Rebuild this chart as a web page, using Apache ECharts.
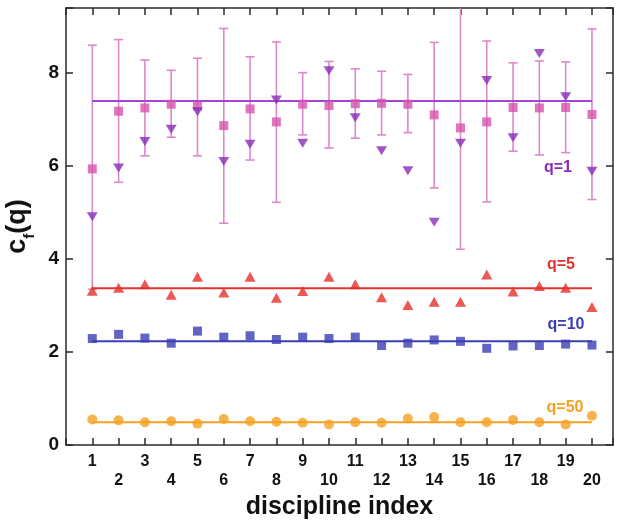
<!DOCTYPE html>
<html>
<head>
<meta charset="utf-8">
<script src="https://cdn.jsdelivr.net/npm/echarts@6/dist/echarts.min.js"></script>
<style>html,body{margin:0;padding:0;background:#fff}#c{width:619px;height:520px}</style>
</head>
<body>
<div id="c"></div>
<script>
const disciplines = [1,2,3,4,5,6,7,8,9,10,11,12,13,14,15,16,17,18,19,20];
const meanQ1 = [5.94,7.18,7.25,7.33,7.29,6.87,7.23,6.95,7.33,7.30,7.34,7.35,7.33,7.10,6.82,6.95,7.26,7.25,7.26,7.11];
const errHighQ1 = [8.60,8.72,8.28,8.06,8.32,8.96,8.35,8.67,8.01,8.25,8.09,8.04,7.97,8.66,9.9,8.69,8.22,8.26,8.24,8.95];
const errLowQ1 = [3.35,5.65,6.22,6.62,6.22,4.77,6.13,5.22,6.67,6.39,6.60,6.67,6.72,5.53,4.21,5.23,6.32,6.24,6.29,5.28];
const triQ1 = [4.91,5.96,6.53,6.79,7.17,6.10,6.47,7.42,6.49,8.05,7.04,6.33,5.90,4.79,6.49,7.84,6.61,8.42,7.49,5.89];
const q5 = [3.32,3.38,3.46,3.23,3.62,3.28,3.62,3.17,3.31,3.62,3.46,3.18,3.01,3.08,3.08,3.67,3.30,3.42,3.38,2.97];
const q10 = [2.29,2.38,2.30,2.19,2.45,2.32,2.35,2.27,2.32,2.29,2.32,2.14,2.19,2.26,2.23,2.08,2.13,2.14,2.17,2.15];
const q50 = [0.55,0.53,0.49,0.51,0.46,0.56,0.51,0.50,0.48,0.44,0.49,0.48,0.57,0.60,0.49,0.49,0.54,0.49,0.44,0.63];
const fitLevels = [7.40, 3.37, 2.23, 0.49];
const seriesNames = ['q=1','q=5','q=10','q=50'];
const yTicks = [0,2,4,6,8];

const C = {
  purpleLine:'#a443d6', purpleTri:'#8a2cb8', pink:'#d652ae', err:'#db88cc',
  red:'#e6302b', blue:'#3a3db3', orange:'#f5a021', axis:'#2a2a2a'
};
const FONT = 'Liberation Sans, Arial, Helvetica, sans-serif';

const pts = arr => disciplines.map((d,i)=>[d, arr[i]]);
const fitLine = v => [[disciplines[0], v], [disciplines[disciplines.length-1], v]];

const chart = echarts.init(document.getElementById('c'), null, {renderer:'canvas'});
const axisLine = {show:true, onZero:false, lineStyle:{color:C.axis, width:1.5}};
const tickStyle = {color:C.axis, width:1.5};

chart.setOption({
  animation:false,
  backgroundColor:'#fff',
  textStyle:{fontFamily:FONT},
  grid:{left:66, right:6, top:8, bottom:75, containLabel:false, outerBoundsMode:'none'},
  xAxis:[{
    type:'value', position:'bottom', min:0, max:20.8, interval:1,
    axisLine:axisLine, splitLine:{show:false},
    axisTick:{show:true, inside:true, length:7, lineStyle:tickStyle},
    axisLabel:{
      fontFamily:FONT, fontSize:16, fontWeight:'bold', color:'#111', lineHeight:19, margin:7,
      formatter:function(v){
        if (Math.abs(v-Math.round(v))>1e-6 || v<1 || v>20) return '';
        return (v%2===1) ? String(v) : '\n'+v;
      }
    },
    name:'discipline index', nameLocation:'middle', nameGap:37,
    nameTextStyle:{fontFamily:FONT, fontSize:25, fontWeight:'bold', color:'#111'}
  },{
    type:'value', position:'top', min:0, max:20.8, interval:1,
    axisLine:axisLine, splitLine:{show:false},
    axisTick:{show:true, inside:true, length:7, lineStyle:tickStyle},
    axisLabel:{show:false}
  }],
  yAxis:[{
    type:'value', position:'left', min:0, max:9.4, interval:2,
    axisLine:axisLine, splitLine:{show:false},
    axisTick:{show:true, inside:true, length:7, lineStyle:tickStyle},
    axisLabel:{
      fontFamily:FONT, fontSize:19, fontWeight:'bold', color:'#111', margin:7,
      formatter:function(v){ return yTicks.indexOf(v)>=0 ? String(v) : ''; }
    },
    name:'{a|c}{b|f}{a|(q)}', nameLocation:'middle', nameGap:27, nameRotate:90,
    nameTextStyle:{
      rich:{
        a:{fontFamily:FONT, fontSize:27, fontWeight:'bold', color:'#111', verticalAlign:'bottom'},
        b:{fontFamily:FONT, fontSize:15, fontWeight:'bold', color:'#111', verticalAlign:'bottom', padding:[0,0,-6,0]}
      }
    }
  },{
    type:'value', position:'right', min:0, max:9.4, interval:2,
    axisLine:axisLine, splitLine:{show:false},
    axisTick:{show:true, inside:true, length:7, lineStyle:tickStyle},
    axisLabel:{show:false}
  }],
  series:[
    {
      type:'custom', name:'err', clip:true, xAxisIndex:0, yAxisIndex:0,
      data: disciplines.map((d,i)=>[d, errLowQ1[i], errHighQ1[i]]),
      encode:{x:0, y:[1,2]},
      renderItem:function(params, api){
        const x = api.value(0);
        const lo = api.coord([x, api.value(1)]);
        const hi = api.coord([x, api.value(2)]);
        const w = 4.5;
        const st = {stroke:C.err, lineWidth:1.6};
        return {type:'group', children:[
          {type:'line', shape:{x1:lo[0], y1:lo[1], x2:hi[0], y2:hi[1]}, style:st},
          {type:'line', shape:{x1:hi[0]-w, y1:hi[1], x2:hi[0]+w, y2:hi[1]}, style:st},
          {type:'line', shape:{x1:lo[0]-w, y1:lo[1], x2:lo[0]+w, y2:lo[1]}, style:st}
        ]};
      },
      z:1
    },
    {type:'line', data:fitLine(fitLevels[0]), symbol:'none', lineStyle:{color:C.purpleLine, width:2}, z:2},
    {type:'line', data:fitLine(fitLevels[1]), symbol:'none', lineStyle:{color:C.red, width:2}, z:2},
    {type:'line', data:fitLine(fitLevels[2]), symbol:'none', lineStyle:{color:C.blue, width:2}, z:2},
    {type:'line', data:fitLine(fitLevels[3]), symbol:'none', lineStyle:{color:C.orange, width:2}, z:2},
    {type:'scatter', name:'mean q=1', data:pts(meanQ1), symbol:'rect', symbolSize:9, itemStyle:{color:C.pink}, z:3},
    {type:'scatter', name:'q=1', data:pts(triQ1), symbol:'triangle', symbolRotate:180, symbolSize:[11,9], itemStyle:{color:C.purpleTri}, z:4},
    {type:'scatter', name:'q=5', data:pts(q5), symbol:'triangle', symbolSize:[11,10], itemStyle:{color:C.red}, z:4},
    {type:'scatter', name:'q=10', data:pts(q10), symbol:'rect', symbolSize:9, itemStyle:{color:C.blue}, z:4},
    {type:'scatter', name:'q=50', data:pts(q50), symbol:'circle', symbolSize:10, itemStyle:{color:C.orange}, z:4}
  ],
  graphic:[
    {type:'text', x:558, y:168, style:{text:seriesNames[0], fill:C.purpleTri, font:'bold 16px '+FONT, textAlign:'center', textVerticalAlign:'middle'}},
    {type:'text', x:561, y:265, style:{text:seriesNames[1], fill:C.red, font:'bold 16px '+FONT, textAlign:'center', textVerticalAlign:'middle'}},
    {type:'text', x:566, y:325, style:{text:seriesNames[2], fill:C.blue, font:'bold 16px '+FONT, textAlign:'center', textVerticalAlign:'middle'}},
    {type:'text', x:565, y:408, style:{text:seriesNames[3], fill:C.orange, font:'bold 16px '+FONT, textAlign:'center', textVerticalAlign:'middle'}}
  ]
});
</script>
</body>
</html>
